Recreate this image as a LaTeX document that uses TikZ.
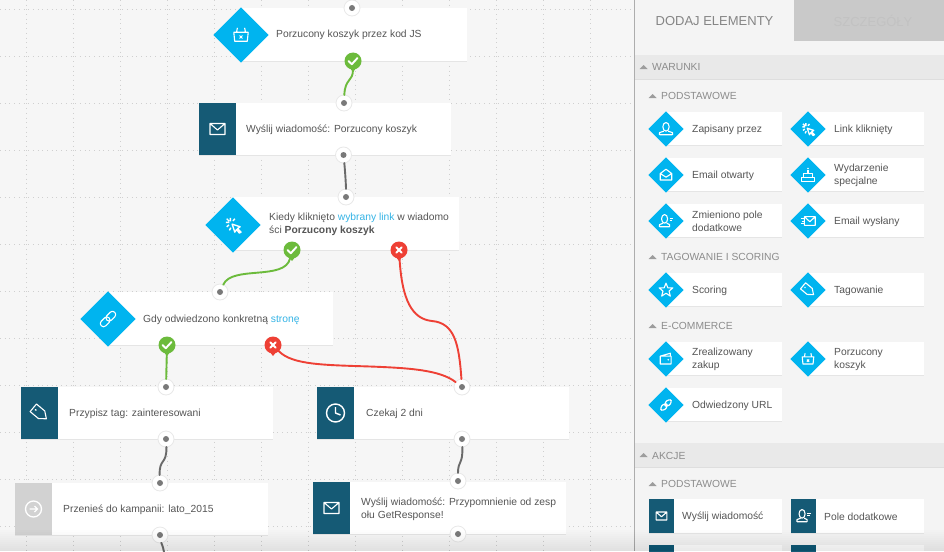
\documentclass[tikz,border=0pt]{standalone}
\usepackage{fontspec}
\setmainfont{Liberation Sans}
\definecolor{bgc}{HTML}{F6F6F6}
\definecolor{panelc}{HTML}{F4F4F4}
\definecolor{barc}{HTML}{E9E9E9}
\definecolor{tabc}{HTML}{C9C9C9}
\definecolor{gridc}{HTML}{CFCFCF}
\definecolor{bluec}{HTML}{00B4EF}
\definecolor{tealc}{HTML}{155A75}
\definecolor{greyc}{HTML}{D2D2D2}
\definecolor{txtc}{HTML}{555555}
\definecolor{headc}{HTML}{8C8C8C}
\definecolor{linkc}{HTML}{35B4E6}
\definecolor{okc}{HTML}{6CBB3C}
\definecolor{noc}{HTML}{EE4035}
\definecolor{linec}{HTML}{6A6A6A}
\tikzset{
 x=1pt,y=-1pt,
 gridline/.style={gridc,line width=.8pt,dash pattern=on 1pt off 3.7pt},
 cardbox/.style={fill=white,inner sep=0pt,outer sep=0pt,text width=0pt},
 cardedge/.style={draw=black!10,line width=.8pt},
 blockbox/.style={inner sep=0pt,outer sep=0pt,minimum width=37pt,minimum height=52pt},
 diabox/.style={fill=bluec,inner sep=0pt,outer sep=0pt,minimum size=#1,rotate=45},
 lab/.style={anchor=west,inner sep=0pt,text=txtc,font=\fontsize{10.3}{13}\selectfont,align=left},
 itemlab/.style={anchor=west,inner sep=0pt,text=txtc,font=\fontsize{10.3}{13}\selectfont,align=left},
 headlab/.style={anchor=west,inner sep=0pt,text=headc,font=\fontsize{10.3}{12}\selectfont},
 tri/.style={fill=headc!85,draw=none},
 port/.style={circle,fill=white,draw=black!9,line width=.8pt,minimum size=16pt,inner sep=0pt,outer sep=0pt,
   path picture={\fill[linec!90] (path picture bounding box.center) circle (3);}},
 okdot/.style={circle,fill=okc,minimum size=17pt,inner sep=0pt,outer sep=0pt},
 nodot/.style={circle,fill=noc,minimum size=17pt,inner sep=0pt,outer sep=0pt},
 wire/.style={line width=1.9pt,line cap=round},
 ic/.style={draw=white,line width=1.1pt,line join=round,fill=none},
 pics/imail/.style={code={\draw[ic] (-7.5,-5.5) rectangle (7.5,5.5) (-7.5,-5.5)--(0,1)--(7.5,-5.5);}},
 pics/ibasket/.style={code={\draw[ic] (-8,-3)--(8,-3)--(7,7)--(-7,7)--cycle (-5,-3)--(-4,-8) (5,-3)--(4,-8);
    \draw[ic,line width=1pt] (-1.6,0.6)--(1.6,3.8) (1.6,0.6)--(-1.6,3.8);}},
 pics/icursor/.style={code={\draw[ic,line width=1.3pt] (-1,-1)--(8,2)--(5,4)--(9,8)--(7,9)--(4,5)--(2,8)--cycle;
    \draw[ic,line width=1.4pt] (-3,-8)--(-3,-4) (-8,-3)--(-4,-3) (-7,-7)--(-4.5,-4.5) (2,-7)--(0,-4.5) (-7,2)--(-4.5,0) (-4,6)--(-2.5,3);}},
 pics/ilink/.style={code={\begin{scope}[rotate=45]\draw[ic,rounded corners=3] (-9.5,-3.2) rectangle (1.5,3.2) (-1.5,-3.2) rectangle (9.5,3.2);\end{scope}}},
 pics/itag/.style={code={\begin{scope}[rotate=-40]\draw[ic] (-9,-5.5)--(3,-5.5)--(10,0)--(3,5.5)--(-9,5.5)--cycle;\fill[white] (-5.5,0) circle (1.2);\end{scope}}},
 pics/iclock/.style={code={\draw[ic,line width=1.4pt] (0,0) circle (9) (0,-6)--(0,0)--(5,2);}},
 pics/iarrow/.style={code={\draw[draw=white,line width=1.3pt] (0,0) circle (8) (-4,0)--(4,0) (1,-3)--(4,0)--(1,3);}},
 pics/iuser/.style={code={\draw[ic] (-9,8)--(-9,5)--(-3,3) (9,8)--(9,5)--(3,3) (-9,8)--(9,8);\draw[ic] (0,-3) ellipse (4.4 and 6);}},
 pics/iuserb/.style={code={\draw[ic] (-9,8)--(-9,5)--(-4,3) (5,8)--(5,5)--(1,3) (-9,8)--(5,8);\draw[ic] (-2,-3) ellipse (4.2 and 6);\draw[ic,line width=1pt] (5,-4)--(10,-4) (5,-1)--(9,-1);}},
 pics/iopen/.style={code={\draw[ic] (-8,-2)--(0,-8)--(8,-2)--(8,7)--(-8,7)--cycle (-8,-2)--(0,3)--(8,-2);}},
 pics/icake/.style={code={\draw[ic] (-9,3) rectangle (9,9) (-6,-2) rectangle (6,3) (0,-2)--(0,-7);\fill[white] (0,-9) circle (1.2);}},
 pics/isent/.style={code={\draw[ic] (-5,-6) rectangle (10,6) (-5,-6)--(2.5,1)--(10,-6);\draw[ic,line width=1pt] (-10,-4)--(-6,-4) (-9,0)--(-6,0) (-10,4)--(-6,4);}},
 pics/istar/.style={code={\draw[ic] (0,-9.5)--(2.6,-3)--(9.5,-3)--(4.2,1.5)--(6,8.5)--(0,4.5)--(-6,8.5)--(-4.2,1.5)--(-9.5,-3)--(-2.6,-3)--cycle;}},
 pics/iwallet/.style={code={\draw[ic] (-8,-4) rectangle (7,7) (-8,-4)--(6,-8)--(6,-4);\fill[white] (3,1) circle (1.2);}},
}
\newcommand{\cardat}[5]{% name x1 y1 x2 y2
 \node[cardbox,minimum width={((#4)-(#2))*1pt},minimum height={((#5)-(#3))*1pt}] (#1) at ({((#2)+(#4))/2},{((#3)+(#5))/2}) {};
 \draw[cardedge] (#1.south west)--(#1.south east);}
\newcommand{\okmark}[2]{\node[okdot] (#1) at (#2) {};
 \fill[okc] ($(#1)+(-4,6)$)--($(#1)+(4,6)$)--($(#1)+(0,11)$)--cycle;
 \draw[white,line width=1.9pt,line cap=round,line join=round] ($(#1)+(-4.5,0)$)--($(#1)+(-1.2,3.2)$)--($(#1)+(4.5,-3)$);}
\newcommand{\nomark}[2]{\node[nodot] (#1) at (#2) {};
 \fill[noc] ($(#1)+(-4,6)$)--($(#1)+(4,6)$)--($(#1)+(0,11)$)--cycle;
 \draw[white,line width=1.9pt,line cap=round] ($(#1)+(-2.7,-2.7)$)--($(#1)+(2.7,2.7)$) ($(#1)+(2.7,-2.7)$)--($(#1)+(-2.7,2.7)$);}
\newcommand{\dtri}[2]{\fill[tri] (#1-4,#2+2)--(#1+4,#2+2)--(#1,#2-2)--cycle;}
\newcommand{\conditem}[6]{
 \cardat{#1c}{#2}{#4-17}{#3}{#4+16.5}
 \node[diabox=25pt] (#1d) at (#2,#4) {};
 \pic[scale=.72] at (#2,#4) {#5};
 \node[itemlab] (#1t) at (#2+26,#4+.7) {#6};}
\newcommand{\actitem}[6]{
 \cardat{#1c}{#2}{#4-17}{#3}{#4+17}
 \node[blockbox,fill=tealc,minimum width=25pt,minimum height=34pt,anchor=west] (#1d) at (#2,#4) {};
 \pic[scale=.72] at (#2+12.5,#4) {#5};
 \node[itemlab] (#1t) at (#2+33,#4+.7) {#6};}
\usetikzlibrary{calc}
\begin{document}
\begin{tikzpicture}
\useasboundingbox (0,0) rectangle (944,551);
\fill[bgc] (0,0) rectangle (944,551);
\foreach \g in {26,73,...,640}{\draw[gridline] (\g,0)--(\g,551);}
\foreach \g in {9,56,...,551}{\draw[gridline] (0,\g)--(640,\g);}

% ---- cards
\cardat{c1}{240}{8}{467}{61}
\node[diabox=39pt] (d1) at (241,35) {};
\pic[scale=.9] at (241,35) {ibasket};
\node[lab] (t1) at (276,35) {Porzucony koszyk przez kod JS};

\cardat{c2}{199}{103}{451}{155}
\node[blockbox,fill=tealc,anchor=north west] (b2) at (199,103) {};
\pic at (217.5,129) {imail};
\node[lab] (t2) at (246,130) {Wyślij wiadomość: Porzucony koszyk};

\cardat{c3}{232}{197}{459}{250}
\node[diabox=39pt] (d3) at (233,225) {};
\pic[scale=.9] at (233,225) {icursor};
\node[lab] (t3) at (269,224.5) {Kiedy kliknięto \textcolor{linkc}{wybrany link} w wiadomo\\ści \textbf{Porzucony koszyk}};

\cardat{c4}{107}{292}{333}{345}
\node[diabox=39pt] (d4) at (108,319) {};
\pic at (108,319) {ilink};
\node[lab] (t4) at (143,320) {Gdy odwiedzono konkretną \textcolor{linkc}{stronę}};

\cardat{c5}{21}{387}{273}{439}
\node[blockbox,fill=tealc,anchor=north west] (b5) at (21,387) {};
\pic[scale=.9] at (39.5,413) {itag};
\node[lab] (t5) at (69,414) {Przypisz tag: zainteresowani};

\cardat{c6}{15}{483}{268}{535}
\node[blockbox,fill=greyc,anchor=north west] (b6) at (15,483) {};
\pic at (33.5,509) {iarrow};
\node[lab] (t6) at (63,510) {Przenieś do kampanii: lato\_2015};

\cardat{c7}{317}{387}{569}{439}
\node[blockbox,fill=tealc,anchor=north west] (b7) at (317,387) {};
\pic at (335.5,413) {iclock};
\node[lab] (t7) at (366,414) {Czekaj 2 dni};

\cardat{c8}{313}{482}{566}{534}
\node[blockbox,fill=tealc,anchor=north west] (b8) at (313,482) {};
\pic at (331.5,508) {imail};
\node[lab] (t8) at (361,509.5) {Wyślij wiadomość: Przypomnienie od zesp\\ołu GetResponse!};

% ---- ports
\node[port] (p0) at (352,8) {};
\node[port] (p1) at (344,103) {};
\node[port] (p2) at (343.5,155) {};
\node[port] (p3) at (346,197) {};
\node[port] (p4) at (220,292) {};
\node[port] (p5) at (166,387) {};
\node[port] (p6) at (166,439) {};
\node[port] (p7) at (160,483) {};
\node[port] (p8) at (160,535) {};
\node[port] (p9) at (462,387) {};
\node[port] (p10) at (462,439) {};
\node[port] (p11) at (458,481) {};
\node[port] (p12) at (458,534) {};
\coordinate (end1) at (164,552);
\coordinate (redmidA) at (432,321);
\coordinate (redmidB) at (370,366.5);

\okmark{k1}{353,61}
\okmark{k3}{292,250}
\nomark{x3}{399,250}
\okmark{k4}{167,345}
\nomark{x4}{273,345}

% ---- connectors
\draw[wire,okc] (k1) .. controls (353,82) and (345,78) .. (p1);
\draw[wire,linec] (p2) .. controls (345,170) and (346,185) .. (p3);
\draw[wire,okc] (k3) .. controls (285,281) and (232,265) .. (p4);
\draw[wire,noc] (x3) .. controls (402,300) and (412,319) .. (redmidA) .. controls (455,323) and (459,345) .. (p9);
\draw[wire,okc] (k4)--(p5);
\draw[wire,noc] (x4) .. controls (292,365) and (325,365) .. (redmidB) .. controls (410,368) and (440,370) .. (p9);
\draw[wire,linec] (p6) .. controls (167,465) and (159,458) .. (p7);
\draw[wire,linec] (p10) .. controls (463,465) and (458,460) .. (p11);
\draw[wire,linec] (p8) .. controls (161,542) and (163,546) .. (end1);

% ---- panel
\fill[panelc] (634,0) rectangle (944,551);
\draw[black!32,line width=.8pt] (634.5,0)--(634.5,551);
\node[anchor=south east,inner sep=0pt,minimum width=150pt,minimum height=41pt,fill=tabc] (tab2) at (944,41) {};
\node[text=headc!95!black,font=\fontsize{13}{15}\selectfont,inner sep=0pt] (tab1t) at (714.5,21) {DODAJ ELEMENTY};
\node[text=black!24,font=\fontsize{13}{15}\selectfont,inner sep=0pt] (tab2t) at (873,21) {SZCZEGÓŁY};

\node[fill=barc,minimum width=309.5pt,minimum height=24pt,inner sep=0pt,anchor=west] (bar1) at (635,67) {};
\draw[black!13,line width=.8pt] (635,79)--(944,79);
\dtri{643.5}{67}
\node[headlab] (h1) at (652,67.5) {WARUNKI};
\dtri{652.5}{96}
\node[headlab] (h2) at (661,96) {PODSTAWOWE};

\conditem{a1}{666}{782}{129}{iuser}{Zapisany przez}
\conditem{a2}{808}{924}{129}{icursor}{Link kliknięty}
\conditem{a3}{666}{782}{175}{iopen}{Email otwarty}
\conditem{a4}{808}{924}{175}{icake}{Wydarzenie\\specjalne}
\conditem{a5}{666}{782}{221}{iuserb}{Zmieniono pole\\dodatkowe}
\conditem{a6}{808}{924}{221}{isent}{Email wysłany}

\dtri{652.5}{257}
\node[headlab] (h3) at (661,257) {TAGOWANIE I SCORING};
\conditem{a7}{666}{782}{290}{istar}{Scoring}
\conditem{a8}{808}{924}{290}{itag}{Tagowanie}

\dtri{652.5}{326}
\node[headlab] (h4) at (661,326) {E-COMMERCE};
\conditem{a9}{666}{782}{359}{iwallet}{Zrealizowany\\zakup}
\conditem{a10}{808}{924}{359}{ibasket}{Porzucony\\koszyk}
\conditem{a11}{666}{782}{405}{ilink}{Odwiedzony URL}

\node[fill=barc,minimum width=309.5pt,minimum height=24pt,inner sep=0pt,anchor=west] (bar2) at (635,455) {};
\draw[black!13,line width=.8pt] (635,467)--(944,467);
\dtri{643.5}{455}
\node[headlab] (h5) at (652,455.5) {AKCJE};
\dtri{652.5}{484}
\node[headlab] (h6) at (661,484) {PODSTAWOWE};

\actitem{b1}{649}{782}{516}{imail}{Wyślij wiadomość}
\actitem{b2x}{791}{924}{516}{iuserb}{Pole dodatkowe}
\actitem{b3}{649}{782}{562}{imail}{}
\actitem{b4}{791}{924}{562}{imail}{}

\foreach \s in {530,532,...,550}{\fill[black,opacity=.006] (0,\s) rectangle (944,551);}
\end{tikzpicture}
\end{document}
